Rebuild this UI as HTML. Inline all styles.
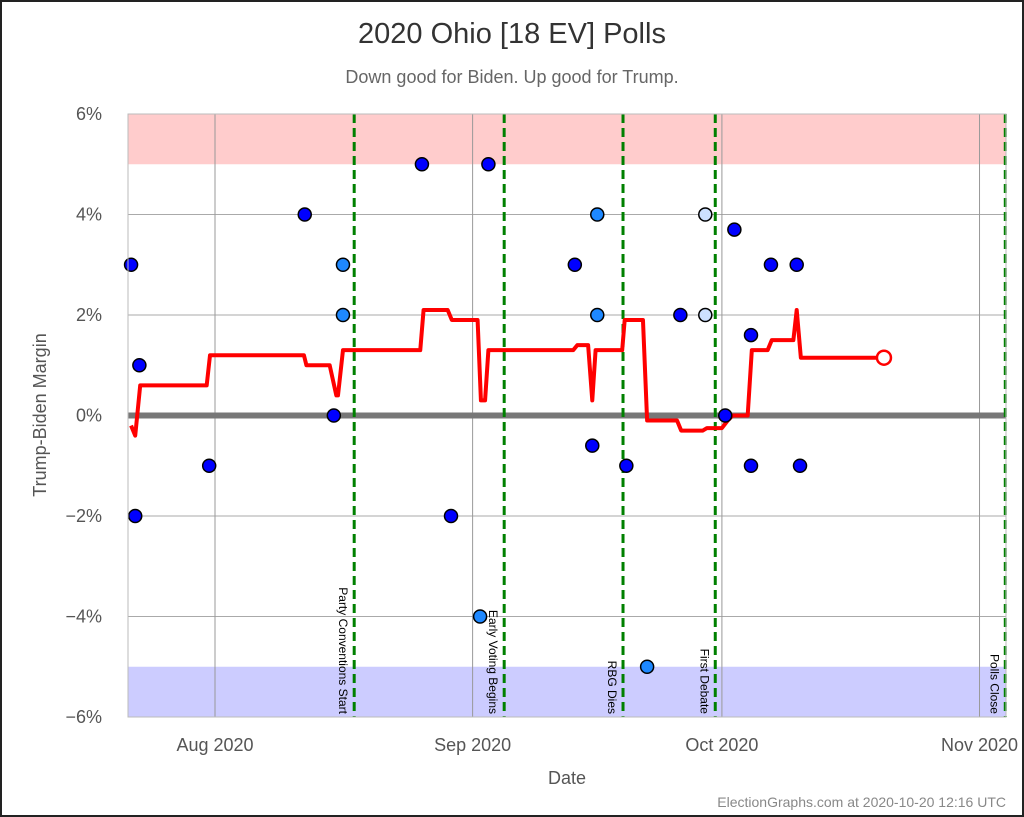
<!DOCTYPE html>
<html><head><meta charset="utf-8"><style>
html,body{margin:0;padding:0;background:#fff}
svg{display:block;font-family:"Liberation Sans",sans-serif}
</style></head><body>
<svg id="chart" width="1024" height="817" viewBox="0 0 1024 817">
<rect x="1" y="1" width="1022" height="815" fill="#fff" stroke="#222" stroke-width="2"/>
<text x="512" y="43" text-anchor="middle" font-size="29" fill="#333">2020 Ohio [18 EV] Polls</text>
<text x="512" y="83" text-anchor="middle" font-size="18" fill="#666">Down good for Biden. Up good for Trump.</text>
<g id="plot"></g>
<text x="46" y="415" transform="rotate(-90 46 415)" text-anchor="middle" font-size="18" fill="#555">Trump-Biden Margin</text>
<text x="567" y="784" text-anchor="middle" font-size="18" fill="#555">Date</text>
<text x="1006" y="807" text-anchor="end" font-size="14" fill="#888">ElectionGraphs.com at 2020-10-20 12:16 UTC</text>
</svg>
<script>
// days since Aug 1 2020
const yTicks=[6,4,2,0,-2,-4,-6];
const yTickLabels=["6%","4%","2%","0%","−2%","−4%","−6%"];
const monthDays=[0,31,61,92];
const monthLabels=["Aug 2020","Sep 2020","Oct 2020","Nov 2020"];
const eventDays=[16.75,34.8,49.1,60.2,95.1];
const eventLabels=["Party Conventions Start","Early Voting Begins","RBG Dies","First Debate","Polls Close"];
const pollDays=[-10.1,-9.1,-9.6,-0.7,10.8,15.4,15.4,14.3,24.9,28.4,32.9,31.9,43.3,46.0,46.0,45.4,49.5,52.0,56.0,59.0,59.0,61.4,62.5,64.5,64.5,66.9,70.0,70.4];
const pollMargins=[3,1,-2,-1,4,3,2,0,5,-2,5,-4,3,4,2,-0.6,-1,-5,2,4,2,0,3.7,1.6,-1,3,3,-1];
const pollShade=[0,0,0,0,0,1,1,0,0,0,0,1,0,1,1,0,0,1,0,2,2,0,0,0,0,0,0,0];
const avgDays=[-10.1,-9.6,-9.0,-1.0,-0.6,10.7,11.0,13.8,14.6,14.8,15.4,24.7,25.1,28.0,28.5,31.6,32.0,32.5,32.9,43.1,43.6,44.9,45.4,45.8,49.0,49.3,51.5,52.0,55.6,56.1,58.7,59.2,61.0,61.7,62.3,64.1,64.6,66.5,67.0,69.6,70.0,70.5,80.5];
const avgMargins=[-0.2,-0.4,0.6,0.6,1.2,1.2,1.0,1.0,0.4,0.4,1.3,1.3,2.1,2.1,1.9,1.9,0.3,0.3,1.3,1.3,1.4,1.4,0.3,1.3,1.3,1.9,1.9,-0.1,-0.1,-0.3,-0.3,-0.25,-0.25,-0.1,0,0,1.3,1.3,1.5,1.5,2.1,1.15,1.15];

const L=128,R=1006,T=114,B=717;
const X=d=>215+d*8.31;
const Y=v=>415.5-v*(B-T)/12;
const NS="http://www.w3.org/2000/svg";
const plot=document.getElementById('plot');
function mk(tag,attrs,parent){const e=document.createElementNS(NS,tag);for(const k in attrs)e.setAttribute(k,attrs[k]);(parent||plot).appendChild(e);return e;}

let e=mk('rect',{x:L,y:Y(6),width:R-L,height:Y(5)-Y(6),fill:'#ffcccc'});


e=mk('rect',{x:L,y:Y(-5),width:R-L,height:Y(-6)-Y(-5),fill:'#ccccff'});



yTicks.forEach((v,i)=>{
  const g=mk('line',{x1:L,x2:R,y1:Y(v),y2:Y(v),stroke:'#aaa','stroke-width':1});
  
  
  const t=mk('text',{x:102,y:Y(v)+6,'text-anchor':'end','font-size':18,fill:'#555'});
  t.textContent=yTickLabels[i];
  
  
});
monthDays.forEach((d,i)=>{
  const g=mk('line',{x1:X(d),x2:X(d),y1:T,y2:B,stroke:'#999','stroke-width':1});
  
  
  const t=mk('text',{x:X(d),y:751,'text-anchor':'middle','font-size':18,fill:'#555'});
  t.textContent=monthLabels[i];
  
  
});
e=mk('line',{x1:L,x2:R,y1:Y(0),y2:Y(0),stroke:'#777','stroke-width':6});



eventDays.forEach((d,i)=>{
  const l=mk('line',{x1:X(d),x2:X(d),y1:T,y2:B,stroke:'#008000','stroke-width':3,'stroke-dasharray':'9,5'});
  
  
  const tx=X(d)-15,ty=714;
  const t=mk('text',{x:tx,y:ty,transform:`rotate(90 ${tx} ${ty})`,'text-anchor':'end','font-size':12,fill:'#000'});
  t.textContent=eventLabels[i];
  
  
});

const pts=avgDays.map((d,i)=>X(d)+','+Y(avgMargins[i])).join(' ');
e=mk('polyline',{points:pts,fill:'none',stroke:'#ff0000','stroke-width':4,'stroke-linejoin':'round'});


const n=avgDays.length-1;
e=mk('circle',{cx:X(avgDays[n]),cy:Y(avgMargins[n]),r:7,fill:'#fff',stroke:'#ff0000','stroke-width':2.5});



const shades=['#0000ff','#1e88ff','#cce0ff'];
pollDays.forEach((d,i)=>{
  const c=mk('circle',{cx:X(d),cy:Y(pollMargins[i]),r:6.5,fill:shades[pollShade[i]],stroke:'#000','stroke-width':1.5});
  
  
});
e=mk('rect',{x:L,y:T,width:R-L,height:B-T,fill:'none',stroke:'#bbb','stroke-width':1});


</script>
</body></html>
